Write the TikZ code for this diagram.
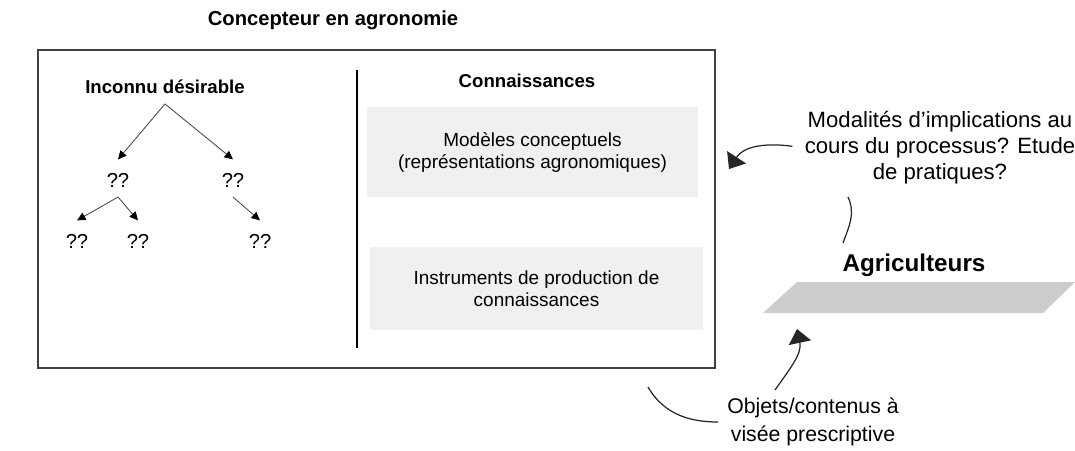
\documentclass[tikz,border=0pt]{standalone}
\usepackage{fontspec}
\setmainfont{Liberation Sans}
\usetikzlibrary{arrows.meta,positioning}

\begin{document}
\begin{tikzpicture}[x=0.02cm,y=0.02cm,inner sep=0pt]
  \useasboundingbox(0,0)rectangle(1075,-450);
  \tikzstyle{h}=[font=\bfseries\fontsize{10.6}{12}\selectfont]
  \tikzstyle{q}=[font=\fontsize{11.5}{13}\selectfont]
  \tikzstyle{k}=[fill=black!6,align=center,font=\fontsize{10.8}{12.5}\selectfont]
  \tikzstyle{c}=[align=center,font=\fontsize{12.6}{14.8}\selectfont]
  % concepteur
  \node[font=\bfseries\fontsize{11.5}{13}\selectfont](titre)at(333,-20){Concepteur en agronomie};
  \node[draw=black!75,line width=0.7pt,minimum width=13.54cm,minimum height=6.36cm](conc)at(376.5,-209){};
  \draw[line width=1.4pt](357,-70)--(357,-348);
  \node[h](inc)at(165,-87){Inconnu désirable};
  \node[q](q1)at(118,-180){??};
  \node[q](q2)at(233,-180){??};
  \node[q](q11)at(77,-241){??};
  \node[q](q12)at(138,-241){??};
  \node[q](q21)at(260,-241){??};
  \tikzstyle{e}=[-{Triangle[length=1.7mm,width=1.6mm,color=black]},draw=black!70,line width=0.5pt]
  \foreach\o/\d in{inc/q1,inc/q2,q1/q11,q1/q12,q2/q21}{\draw[e]([yshift=-5.5pt]\o.south)--([yshift=7.5pt]\d.north);}
  \node[h](conn)at(527,-81){Connaissances};
  \node[k,minimum width=6.62cm,minimum height=1.8cm](mod)at(532.5,-152){Modèles conceptuels\\(représentations agronomiques)};
  \node[k,minimum width=6.66cm,minimum height=1.66cm](instr)at(536.5,-288.5){Instruments de production de\\connaissances};
  % agriculteurs
  \node[c](modal)at(940,-148){Modalités d’implications au\\cours du processus? Etude\\de pratiques?};
  \node[font=\bfseries\fontsize{13.8}{16}\selectfont](agri)at(914,-265){Agriculteurs};
  \fill[black!20](763,-313)--(797,-282)--(1075,-282)--(1043,-313)--cycle;
  \node[c,font=\fontsize{12.1}{16}\selectfont](obj)at(813,-422){Objets/contenus à\\visée prescriptive};
  \tikzstyle{g}=[-{Triangle[length=2.8mm,width=4.5mm]},line width=0.7pt,black!85]
  \coordinate(vc)at(729,-169);
  \coordinate(m1)at(848,-197);
  \coordinate(m2)at(843,-243);
  \coordinate(b1)at(648,-387);
  \coordinate(o1)at(775,-390);
  \coordinate(sol)at(797,-329);
  \draw[g,shorten <=7pt](modal.west)to[out=172,in=57](vc);
  \draw[line width=0.7pt,black!85](m1)to[out=-65,in=70](m2);
  \draw[line width=0.7pt,black!85,shorten >=5pt](b1)to[out=-60,in=180](obj.west);
  \draw[g](o1)to[out=55,in=-78](sol);
\end{tikzpicture}
\end{document}
